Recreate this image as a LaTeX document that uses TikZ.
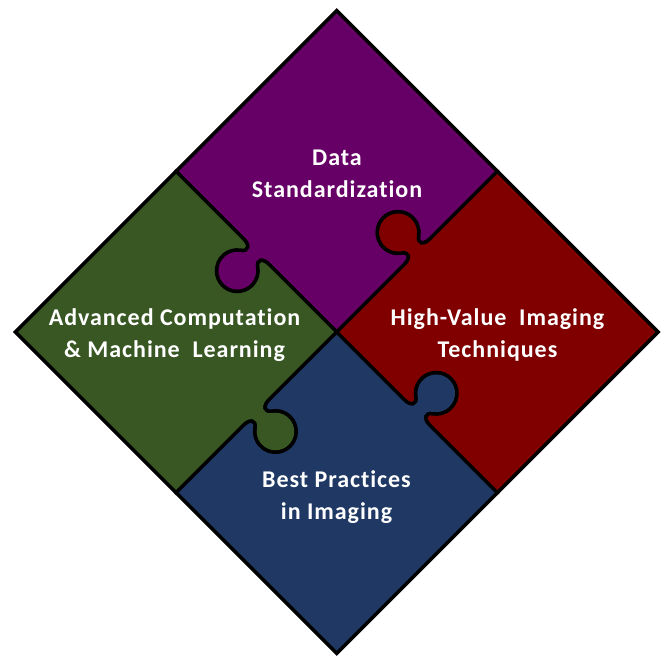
\documentclass[tikz,border=0pt]{standalone}
\usepackage{fontspec}
\setmainfont{Carlito}[Ligatures={NoCommon}, LetterSpace=4]
\definecolor{cpurple}{RGB}{102,0,102}
\definecolor{cred}{RGB}{128,0,0}
\definecolor{cblue}{RGB}{31,56,100}
\definecolor{cgreen}{RGB}{56,87,35}
\newcommand\sidelen{227.3}
\newcommand\midpt{113.7}
\newcommand\piecepath{(0,0) -- (\midpt-18,0) .. controls (\midpt-9,0) and (\midpt-5.5,5.4) .. (\midpt-12,10) arc[start angle=234.78, end angle=-54.78, radius=20.81] .. controls (\midpt+5.5,5.4) and (\midpt+9,0) .. (\midpt+18,0) -- (\sidelen,0) -- (\sidelen,\sidelen) -- (0,\sidelen) -- (0,\midpt+18) .. controls (0,\midpt+9) and (-5.4,\midpt+5.5) .. (-10,\midpt+12) arc[start angle=35.22, end angle=324.78, radius=20.81] .. controls (-5.4,\midpt-5.5) and (0,\midpt-9) .. (0,\midpt-18) -- cycle}
\begin{document}
\begin{tikzpicture}[x=1pt,y=1pt,
  piece/.style={draw=black, line width=3.5pt, line join=miter},
  lbl/.style={text=white, font=\fontsize{24}{31.5}\selectfont\bfseries, align=center, inner sep=0pt}]
\useasboundingbox (0,0) rectangle (663,657);
\begin{scope}[shift={(336.75,325)}]
  \path[piece, fill=cpurple, rotate=45] \piecepath;
  \path[piece, fill=cgreen, rotate=135] \piecepath;
  \path[piece, fill=cblue, rotate=225] \piecepath;
  \path[piece, fill=cred, rotate=315] \piecepath;
\end{scope}
\node[lbl] (top) at (337,483) {Data\\Standardization};
\node[lbl] (right) at (497.5,322) {High-Value\ \ Imaging\\Techniques};
\node[lbl] (left) at (174.5,322) {Advanced Computation\\\&~Machine\ \ Learning};
\node[lbl] (bottom) at (336.5,160) {Best Practices\\in Imaging};
\end{tikzpicture}
\end{document}
